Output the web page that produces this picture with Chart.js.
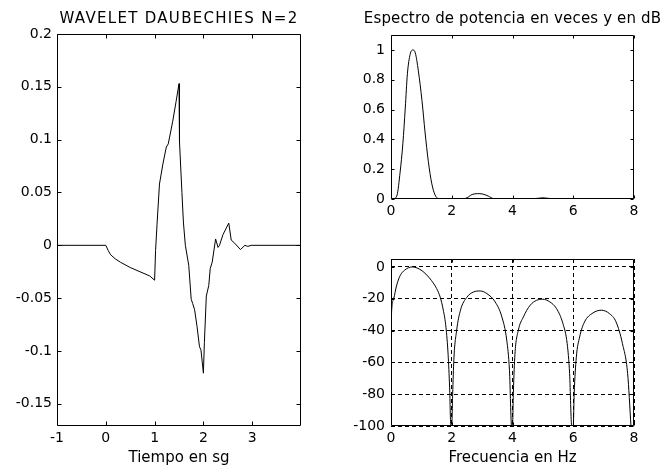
<!DOCTYPE html>
<html lang="es">
<head>
<meta charset="UTF-8">
<title>Wavelet Daubechies N=2</title>
<script src="https://cdn.jsdelivr.net/npm/chart.js"></script>
<style>
    body { margin: 0; background: #fff; }
    #wrap { position: relative; width: 662px; height: 468px; }
    #wrap canvas { position: absolute; left: 0; top: 0; }
</style>
</head>
<body>
<div id="wrap">
    <canvas id="wavelet" width="662" height="468"></canvas>
    <canvas id="potencia" width="662" height="468"></canvas>
    <canvas id="decibel" width="662" height="468"></canvas>
</div>
<script>
// wavelet (time in s, amplitude)
var waveT = [-1, 0, 0.05, 0.1, 0.2, 0.3, 0.5, 0.7, 0.9, 1.0, 1.02, 1.05, 1.1, 1.17, 1.24, 1.28, 1.37, 1.44, 1.5, 1.51,
    1.56, 1.59, 1.63, 1.7, 1.75, 1.78, 1.82, 1.87, 1.92, 1.95, 2.0, 2.02, 2.06, 2.11, 2.14, 2.18, 2.25, 2.3, 2.33, 2.4,
    2.52, 2.57, 2.64, 2.76, 2.85, 2.91, 2.98, 4.0];
var waveV = [0, 0, -0.005, -0.009, -0.013, -0.016, -0.021, -0.025, -0.029, -0.033, -0.005, 0.02, 0.058, 0.077, 0.093, 0.096, 0.117, 0.136, 0.153, 0.098,
    0.05, 0.022, 0, -0.019, -0.051, -0.055, -0.061, -0.077, -0.096, -0.099, -0.121, -0.092, -0.048, -0.038, -0.022, -0.016, 0.006, -0.002, 0, 0.01,
    0.021, 0.005, 0.002, -0.004, 0, -0.001, 0, 0];

// power spectrum (linear)
var specF = [0, 0.1, 0.2, 0.3, 0.39, 0.47, 0.54, 0.63, 0.72, 0.8, 0.9, 1.02, 1.12, 1.23, 1.34, 1.45, 1.55, 1.7, 2.0, 2.45,
    2.67, 2.85, 3.0, 3.2, 3.38, 3.6, 4.6, 5.0, 5.4, 6.0, 8.0];
var specV = [0, 0.003, 0.027, 0.18, 0.37, 0.61, 0.84, 0.97, 1.0, 0.98, 0.86, 0.66, 0.45, 0.25, 0.106, 0.027, 0.004, 0.001, 0, 0.004,
    0.03, 0.036, 0.034, 0.02, 0.002, 0, 0, 0.008, 0, 0, 0];

// power spectrum (dB)
var dbF = [0, 0.02, 0.09, 0.18, 0.3, 0.45, 0.7, 0.95, 1.15, 1.33, 1.5, 1.62, 1.72, 1.81, 1.88, 1.93, 1.97, 2.0, 2.03, 2.07,
    2.16, 2.29, 2.5, 2.72, 2.94, 3.16, 3.43, 3.65, 3.81, 3.9, 3.97, 4.0, 4.03, 4.08, 4.19, 4.36, 4.58, 4.79, 5.0, 5.23,
    5.45, 5.66, 5.8, 5.88, 5.95, 6.0, 6.03, 6.1, 6.21, 6.37, 6.65, 6.92, 7.19, 7.41, 7.62, 7.79, 7.9];
var dbV = [-44, -28, -20, -12, -5.5, -2, 0, -1.5, -4.5, -8.5, -13.5, -19, -27, -38, -55, -76, -100, -100, -80, -58,
    -40, -27, -19, -15.7, -15.1, -16.8, -22, -31.4, -46, -65, -100, -100, -78, -55, -40, -31.4, -24.1, -21, -20.3, -22,
    -26.2, -35.6, -48.2, -67, -100, -100, -80, -57, -44, -34.6, -28.9, -27.2, -29.3, -34.6, -48.2, -67, -100];

// tick labels
var waveXTicks = [-1, 0, 1, 2, 3];
var waveYTicks = [-0.15, -0.1, -0.05, 0, 0.05, 0.1, 0.15, 0.2];
var freqTicks = [0, 2, 4, 6, 8];
var specYTicks = [0, 0.2, 0.4, 0.6, 0.8, 1];
var dbYTicks = [-100, -80, -60, -40, -20, 0];

Chart.defaults.font.family = "'DejaVu Sans', sans-serif";
Chart.defaults.font.size = 14;
Chart.defaults.color = '#000';

function pts(xs, ys) {
    return xs.map(function (x, i) { return { x: x, y: ys[i] }; });
}

function fixTicks(values) {
    return function (scale) {
        scale.ticks = values.map(function (v) { return { value: v }; });
    };
}

// matlab style box, inner tick marks and title
var matlabBox = {
    id: 'matlabBox',
    afterDraw: function (chart, args, o) {
        var ctx = chart.ctx, a = chart.chartArea;
        var x = chart.scales.x, y = chart.scales.y;
        var l = Math.round(a.left) + 0.5, r = Math.round(a.right) - 0.5;
        var t = Math.round(a.top) + 0.5, b = Math.round(a.bottom) - 0.5;
        ctx.save();
        ctx.strokeStyle = '#000';
        ctx.lineWidth = 1;
        ctx.beginPath();
        x.ticks.forEach(function (tk) {
            var px = Math.round(x.getPixelForValue(tk.value)) + 0.5;
            ctx.moveTo(px, b); ctx.lineTo(px, b - o.len);
            ctx.moveTo(px, t); ctx.lineTo(px, t + o.len);
        });
        y.ticks.forEach(function (tk) {
            var py = Math.round(y.getPixelForValue(tk.value)) + 0.5;
            ctx.moveTo(l, py); ctx.lineTo(l + o.len, py);
            ctx.moveTo(r, py); ctx.lineTo(r - o.len, py);
        });
        ctx.rect(l, t, r - l, b - t);
        ctx.stroke();
        if (o.title) {
            ctx.font = o.font;
            ctx.letterSpacing = o.spacing || '0px';
            ctx.fillStyle = '#000';
            ctx.textAlign = 'center';
            ctx.textBaseline = 'alphabetic';
            ctx.fillText(o.title, (a.left + a.right) / 2, 23);
        }
        ctx.restore();
    }
};

function makeChart(id, cfg) {
    return new Chart(document.getElementById(id), {
        type: 'scatter',
        data: {
            datasets: [{
                data: cfg.data,
                showLine: true,
                borderColor: '#000',
                borderWidth: 1,
                pointRadius: 0,
                cubicInterpolationMode: cfg.smooth ? 'monotone' : 'default',
                tension: 0
            }]
        },
        options: {
            responsive: false,
            animation: false,
            events: [],
            layout: { padding: cfg.padding },
            plugins: {
                legend: { display: false },
                tooltip: { enabled: false },
                matlabBox: { len: cfg.tickLen, title: cfg.title, font: cfg.titleFont, spacing: cfg.titleSpacing }
            },
            scales: {
                x: {
                    type: 'linear',
                    min: cfg.xMin, max: cfg.xMax,
                    afterBuildTicks: fixTicks(cfg.xTicks),
                    afterFit: function (s) { s.height = cfg.xH; },
                    grid: { display: !!cfg.grid, color: '#000', drawTicks: false },
                    border: { display: false, dash: [4, 3] },
                    ticks: { padding: 4, maxRotation: 0, autoSkip: false, callback: function (v) { return String(v); } },
                    title: { display: !!cfg.xTitle, text: cfg.xTitle, padding: 0, font: { size: 15 } }
                },
                y: {
                    type: 'linear',
                    min: cfg.yMin, max: cfg.yMax,
                    afterBuildTicks: fixTicks(cfg.yTicks),
                    afterFit: function (s) { s.width = cfg.yW; },
                    grid: { display: !!cfg.grid, color: '#000', drawTicks: false },
                    border: { display: false, dash: [4, 3] },
                    ticks: { padding: cfg.yPad, autoSkip: false, callback: function (v) { return String(v); } }
                }
            }
        },
        plugins: [matlabBox]
    });
}

makeChart('wavelet', {
    data: pts(waveT, waveV),
    smooth: false,
    padding: { left: 7, top: 34, right: 361, bottom: 1 },
    xMin: -1, xMax: 4, xTicks: waveXTicks, xH: 41, xTitle: 'Tiempo en sg',
    yMin: -0.171, yMax: 0.2, yTicks: waveYTicks, yW: 50, yPad: 5,
    tickLen: 4,
    title: 'WAVELET DAUBECHIES N=2', titleFont: "15px 'DejaVu Sans'", titleSpacing: '1.3px'
});

makeChart('potencia', {
    data: pts(specF, specV),
    smooth: true,
    padding: { left: 346, top: 35, right: 28, bottom: 244 },
    xMin: 0, xMax: 8, xTicks: freqTicks, xH: 25,
    yMin: 0, yMax: 1.1, yTicks: specYTicks, yW: 45, yPad: 6,
    tickLen: 3,
    title: 'Espectro de potencia en veces y en dB', titleFont: "15px 'DejaVu Sans'", titleSpacing: '0.15px'
});

makeChart('decibel', {
    data: pts(dbF, dbV),
    smooth: true,
    grid: true,
    padding: { left: 346, top: 259, right: 28, bottom: 1 },
    xMin: 0, xMax: 8, xTicks: freqTicks, xH: 41, xTitle: 'Frecuencia en Hz',
    yMin: -100, yMax: 5, yTicks: dbYTicks, yW: 45, yPad: 6,
    tickLen: 3
});
</script>
</body>
</html>
